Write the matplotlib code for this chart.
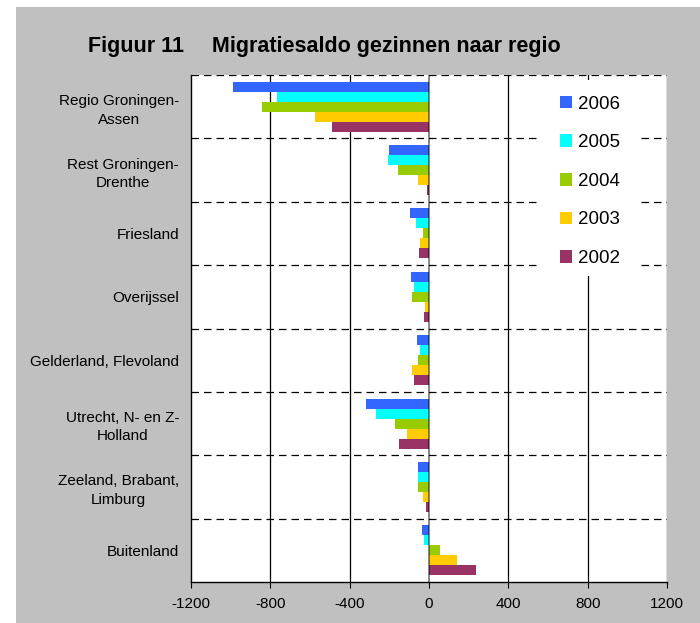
import matplotlib
matplotlib.use("Agg")
import matplotlib.pyplot as plt
import numpy as np
from matplotlib.patches import Rectangle, Patch

plt.rcParams['font.family'] = ['Liberation Sans', 'DejaVu Sans']

# ------------------------------------------------
# Data
# ------------------------------------------------
regions = ["Regio Groningen-\nAssen", "Rest Groningen-\nDrenthe", "Friesland",
           "Overijssel", "Gelderland, Flevoland", "Utrecht, N- en Z-\nHolland",
           "Zeeland, Brabant,\nLimburg", "Buitenland"]
years = ["2006", "2005", "2004", "2003", "2002"]
v2006 = [-990, -200, -96, -91, -60, -318, -55, -35]
v2005 = [-765, -207, -65, -76, -45, -267, -55, -25]
v2004 = [-840, -156, -30, -86, -55, -171, -55, 55]
v2003 = [-575, -55, -45, -20, -86, -111, -30, 141]
v2002 = [-490, -10, -50, -25, -76, -151, -15, 237]
series = [v2006, v2005, v2004, v2003, v2002]
colors = ["#3366FF", "#00FFFF", "#99CC00", "#FFCC00", "#993366"]
xticks = [-1200, -800, -400, 0, 400, 800, 1200]

# ------------------------------------------------
# Figure
# ------------------------------------------------
W, H = 700, 623
fig = plt.figure(figsize=(7, 6.23), dpi=100, facecolor="white")
fig.add_artist(Rectangle((16 / W, 0), 1 - 16 / W, 1 - 7 / H,
                         transform=fig.transFigure, facecolor="#C0C0C0",
                         edgecolor="none", zorder=-10))

ax = fig.add_axes([191 / W, 1 - 582 / H, (667 - 191) / W, (582 - 75) / H])
ax.set_facecolor("white")

y = np.arange(len(regions))
h = 0.158
for j, (vals, c) in enumerate(zip(series, colors)):
    ax.barh(y + (j - 2) * h, vals, height=h, color=c, edgecolor="none", zorder=2)

# grid lines
for xv in xticks[1:]:
    if xv == 0:
        ax.axvline(0, color="black", alpha=0.55, lw=1.2, zorder=3)
    else:
        ax.axvline(xv, color="black", lw=0.9, zorder=1)
for b in np.arange(-0.5, len(regions) - 1, 1.0):
    ax.axhline(b, color="black", lw=0.9, linestyle=(0, (6, 4)), zorder=1)

ax.set_xlim(-1200, 1200)
ax.set_ylim(len(regions) - 0.5, -0.5)
ax.set_xticks(xticks)
ax.set_xticklabels([str(t) for t in xticks], fontsize=11)
ax.set_yticks(y)
ax.set_yticklabels(regions, fontsize=11, multialignment="center", linespacing=1.4)
ax.tick_params(axis="y", length=0, pad=8.6)
ax.tick_params(axis="x", length=4, direction="out", pad=7)
ax.spines["top"].set_visible(False)
ax.spines["right"].set_visible(False)
for s in ["left", "bottom"]:
    ax.spines[s].set_linewidth(1.0)
    ax.spines[s].set_color("black")

# title
fig.text(88 / W, 1 - 52 / H, "Figuur 11", fontsize=15.5, fontweight="bold",
         va="baseline", ha="left")
fig.text(212 / W, 1 - 52 / H, "Migratiesaldo gezinnen naar regio", fontsize=15.5,
         fontweight="bold", va="baseline", ha="left")

# legend: white box behind, frameless legend on top
ax.add_artist(Rectangle((537 / W, 1 - 276 / H), 100 / W, (276 - 80) / H,
                        transform=fig.transFigure, facecolor="white",
                        edgecolor="none", zorder=4))
handles = [Patch(facecolor=c, edgecolor="none") for c in colors]
leg = ax.legend(handles, years, loc="upper left", bbox_to_anchor=(556 / W, 1 - 92 / H),
                bbox_transform=fig.transFigure, fontsize=13.5, frameon=False,
                handlelength=0.65, handleheight=0.65, handletextpad=0.3,
                labelspacing=1.15, borderpad=0.2, borderaxespad=0)
leg.set_zorder(5)

fig.savefig("out.png", dpi=100, facecolor="white")
